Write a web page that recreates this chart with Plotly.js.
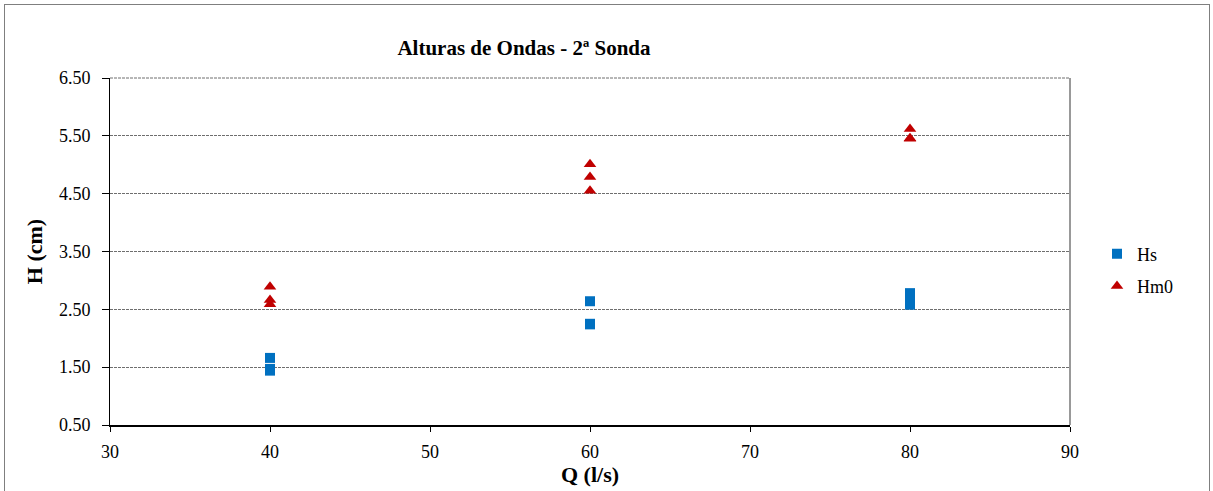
<!DOCTYPE html>
<html>
<head>
<meta charset="utf-8">
<script src="https://cdn.plot.ly/plotly-3.0.1.min.js"></script>
<style>
body{margin:0;padding:0;background:#fff;}
#wrap{position:relative;width:1213px;height:491px;overflow:hidden;}
#chart{width:1213px;height:491px;}
#frame{position:absolute;left:4px;top:4px;width:1204px;height:495px;border:1px solid #7f7f7f;pointer-events:none;}
</style>
</head>
<body>
<div id="wrap"><div id="chart"></div><div id="frame"></div></div>
<script>
const hsQ = [40, 40, 40, 60, 60, 60, 80, 80, 80];
const hsH = [1.66, 1.47, 1.44, 2.64, 2.25, 2.24, 2.78, 2.68, 2.58];
const hm0Q = [40, 40, 40, 60, 60, 60, 80, 80, 80];
const hm0H = [2.89, 2.66, 2.59, 5.01, 4.79, 4.55, 5.62, 5.46, 5.45];
const yTicks = [0.5, 1.5, 2.5, 3.5, 4.5, 5.5, 6.5];
const yTickText = ['0.50', '1.50', '2.50', '3.50', '4.50', '5.50', '6.50'];
const xTicks = [30, 40, 50, 60, 70, 80, 90];

const font = 'Times New Roman, Liberation Serif, Tinos, serif';

const traces = [
  {x: hsQ, y: hsH, name: 'Hs', legendgroup: 'a', type: 'scatter', mode: 'markers',
   marker: {symbol: 'square', size: 10, color: '#0070C0'}},
  {x: hm0Q, y: hm0H, name: 'Hm0', legendgroup: 'b', type: 'scatter', mode: 'markers',
   marker: {symbol: 'triangle-up', size: 11, color: '#C00000'}}
];

const layout = {
  width: 1213, height: 491,
  margin: {l: 110, r: 143, t: 78, b: 66, pad: 0},
  paper_bgcolor: '#fff', plot_bgcolor: '#fff',
  font: {family: font, size: 18, color: '#000'},
  title: {text: '<b>Alturas de Ondas - 2ª Sonda</b>', font: {family: font, size: 21, color: '#000'},
          x: 524/1213, xanchor: 'center', y: 1 - 48/491, yanchor: 'middle'},
  xaxis: {range: [30, 90], tickvals: xTicks, ticktext: xTicks.map(String),
          showgrid: false, zeroline: false, showline: true, linecolor: '#000', linewidth: 2,
          ticks: 'outside', ticklen: 5, tickcolor: '#000', tickfont: {family: font, size: 18},
          ticklabelstandoff: 4,
          title: {text: '<b>Q (l/s)</b>', font: {family: font, size: 22}, standoff: 4}},
  yaxis: {range: [0.5, 6.5], tickvals: yTicks, ticktext: yTickText,
          showgrid: true, gridcolor: '#6e6e6e', griddash: '3px,1px', gridwidth: 1,
          zeroline: false, showline: true, linecolor: '#000', linewidth: 1,
          ticks: 'outside', ticklen: 7, tickcolor: '#000', tickfont: {family: font, size: 18},
          ticklabelstandoff: 8,
          title: {text: '<b>H (cm)</b>', font: {family: font, size: 22}, standoff: 10}},
  legend: {x: (1097-110)/960, y: (425-270)/347, yanchor: 'middle', xanchor: 'left',
           font: {family: font, size: 18}, bgcolor: 'rgba(0,0,0,0)', tracegroupgap: 6,
           itemwidth: 30},
  showlegend: true,
  shapes: [
    {type: 'line', xref: 'paper', yref: 'paper', x0: 0, x1: 1, y0: 1, y1: 1, line: {color: '#6e6e6e', width: 1, dash: '3px,1px'}},
    {type: 'line', xref: 'paper', yref: 'paper', x0: 1, x1: 1, y0: 0, y1: 1, line: {color: '#999', width: 2}}
  ]
};

Plotly.newPlot('chart', traces, layout, {displayModeBar: false, staticPlot: true});
</script>
</body>
</html>
